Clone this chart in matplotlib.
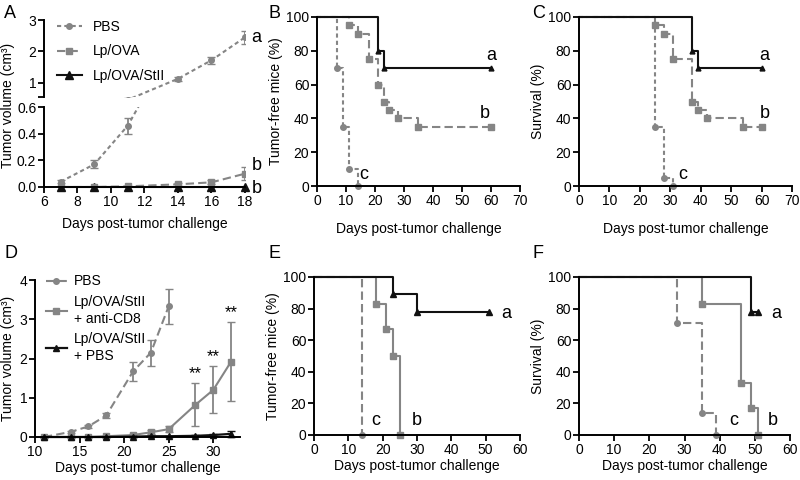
import numpy as np
import matplotlib.pyplot as plt
from matplotlib.lines import Line2D

plt.rcParams['font.family'] = ['Liberation Sans', 'DejaVu Sans']
plt.rcParams['font.size'] = 10

grey = '#858585'
blk = '#111111'

# ---- panel A data ----
a_days = [7, 9, 11, 14, 16, 18]
a_pbs = [0.04, 0.17, 0.46, 1.13, 1.72, 2.45]
a_pbs_err = [0.01, 0.03, 0.06, 0.07, 0.11, 0.2]
a_ova = [0.0, 0.0, 0.005, 0.02, 0.035, 0.10]
a_ova_err = [0.0, 0.0, 0.005, 0.01, 0.015, 0.05]
a_stii = [0, 0, 0, 0, 0, 0]

# ---- panel B data (tumor-free) ----
b_a_t = [0, 21, 23, 60]
b_a_v = [100, 80, 70, 70]
b_b_t = [0, 11, 14, 18, 21, 23, 25, 28, 35, 60]
b_b_v = [100, 95, 90, 75, 60, 50, 45, 40, 35, 35]
b_c_t = [0, 7, 9, 11, 14]
b_c_v = [100, 70, 35, 10, 0]

# ---- panel C data (survival) ----
c_a_t = [0, 37, 39, 60]
c_a_v = [100, 80, 70, 70]
c_b_t = [0, 25, 28, 31, 37, 39, 42, 54, 60]
c_b_v = [100, 95, 90, 75, 50, 45, 40, 35, 35]
c_c_t = [0, 25, 28, 31]
c_c_v = [100, 35, 5, 0]

# ---- panel D data ----
d_pbs_days = [11, 14, 16, 18, 21, 23, 25]
d_pbs = [0.0, 0.13, 0.27, 0.55, 1.67, 2.15, 3.33]
d_pbs_err = [0.0, 0.02, 0.03, 0.06, 0.25, 0.33, 0.45]
d_days = [11, 14, 16, 18, 21, 23, 25, 28, 30, 32]
d_cd8 = [0.0, 0.0, 0.0, 0.02, 0.05, 0.12, 0.2, 0.82, 1.2, 1.92]
d_cd8_err = [0.0, 0.0, 0.0, 0.01, 0.02, 0.05, 0.07, 0.55, 0.6, 1.0]
d_ctl = [0.0, 0.0, 0.0, 0.0, 0.01, 0.02, 0.02, 0.03, 0.05, 0.08]
d_ctl_err = [0.0, 0.0, 0.0, 0.0, 0.0, 0.0, 0.01, 0.01, 0.02, 0.08]
d_star_days = [28, 30, 32]

# ---- panel E data ----
e_a_t = [0, 23, 30, 51]
e_a_v = [100, 89, 78, 78]
e_b_t = [0, 18, 21, 23, 25]
e_b_v = [100, 83, 67, 50, 0]
e_c_t = [0, 14]
e_c_v = [100, 0]

# ---- panel F data ----
f_a_t = [0, 49, 51]
f_a_v = [100, 78, 78]
f_b_t = [0, 35, 46, 49, 51]
f_b_v = [100, 83, 33, 17, 0]
f_c_t = [0, 28, 35, 39]
f_c_v = [100, 71, 14, 0]

W, H = 800, 480
FS = 10
LET = 13


def box(x0, y0, x1, y1):
    # pixel box (top-left origin) -> fig rect
    return [x0 / W, 1 - y1 / H, (x1 - x0) / W, (y1 - y0) / H]


def style(ax, bottom=True):
    for s in ['top', 'right']:
        ax.spines[s].set_visible(False)
    ax.spines['left'].set_linewidth(1.4)
    ax.spines['bottom'].set_linewidth(1.4)
    if not bottom:
        ax.spines['bottom'].set_visible(False)
        ax.tick_params(axis='x', bottom=False, labelbottom=False)
    ax.tick_params(width=1.3, length=4, pad=1.5, labelsize=FS)


def km(ax, t, v, color, ls, marker, ms=4.5):
    ax.step(t, v, where='post', color=color, ls=ls, lw=1.5, clip_on=False)
    ax.plot(t[1:], v[1:], ls='none', marker=marker, color=color, ms=ms, clip_on=False)


fig = plt.figure(figsize=(8, 4.8), dpi=100)

# ---------------- A (broken axis) ----------------
axl = fig.add_axes(box(44, 107, 245, 187))
axu = fig.add_axes(box(44, 20, 245, 97))
for ax, clip in [(axl, False), (axu, True)]:
    ax.errorbar(a_days, a_pbs, yerr=a_pbs_err, color=grey, ls=(0, (2, 1.5)), lw=1.5,
                marker='o', ms=4, capsize=3, elinewidth=1.3)
    ax.errorbar(a_days, a_ova, yerr=a_ova_err, color=grey, ls=(0, (4, 2)), lw=1.5,
                marker='s', ms=4, capsize=3, elinewidth=1.3)
    ax.plot(a_days, a_stii, color=blk, lw=1.5, marker='^', ms=6, clip_on=clip)
    ax.set_xlim(6, 18)
axl.set_ylim(0, 0.6)
axl.set_yticks([0, 0.2, 0.4, 0.6])
axl.set_yticklabels(['0.0', '0.2', '0.4', '0.6'])
axl.set_xticks(range(6, 19, 2))
style(axl)
axl.set_xlabel('Days post-tumor challenge', fontsize=FS, labelpad=6)
axu.set_ylim(0.55, 3)
axu.set_yticks([0.55, 1, 2, 3])
axu.set_yticklabels(['', '1', '2', '3'])
style(axu, bottom=False)
hA = [Line2D([], [], color=grey, ls=(0, (2, 1.5)), lw=1.5, marker='o', ms=4),
      Line2D([], [], color=grey, ls=(0, (4, 2)), lw=1.5, marker='s', ms=4),
      Line2D([], [], color=blk, lw=1.5, marker='^', ms=6)]
axu.legend(hA, ['PBS', 'Lp/OVA', 'Lp/OVA/StII'], loc='upper left', frameon=False,
           fontsize=FS, labelspacing=0.75, handlelength=1.8, borderaxespad=0.1,
           bbox_to_anchor=(0.03, 1.09))
axu.text(18.4, 2.45, 'a', fontsize=LET, va='center')
axl.text(18.4, 0.16, 'b', fontsize=LET, va='center')
axl.text(18.4, -0.01, 'b', fontsize=LET, va='center')
fig.text(8 / W, 1 - 105 / H, 'Tumor volume (cm³)', rotation=90, ha='center', va='center',
         fontsize=FS)

# ---------------- B ----------------
ax = fig.add_axes(box(317, 17, 520, 186))
km(ax, b_c_t, b_c_v, grey, (0, (2, 1.5)), 'o', 4)
km(ax, b_b_t, b_b_v, grey, (0, (4, 2)), 's', 4.5)
km(ax, b_a_t, b_a_v, blk, '-', '^', 3.5)
ax.set_xlim(0, 70)
ax.set_ylim(0, 100)
ax.set_xticks(range(0, 71, 10))
ax.set_yticks(range(0, 101, 20))
style(ax)
ax.set_ylabel('Tumor-free mice (%)', fontsize=FS, labelpad=2)
ax.set_xlabel('Days post-tumor challenge', fontsize=FS, labelpad=10)
ax.text(60, 77, 'a', fontsize=LET, ha='center', va='center')
ax.text(58, 43, 'b', fontsize=LET, ha='center', va='center')
ax.text(16, 7, 'c', fontsize=LET, ha='center', va='center')

# ---------------- C ----------------
ax = fig.add_axes(box(579, 17, 792, 186))
km(ax, c_c_t, c_c_v, grey, (0, (2, 1.5)), 'o', 4)
km(ax, c_b_t, c_b_v, grey, (0, (4, 2)), 's', 4.5)
km(ax, c_a_t, c_a_v, blk, '-', '^', 3.5)
ax.set_xlim(0, 70)
ax.set_ylim(0, 100)
ax.set_xticks(range(0, 71, 10))
ax.set_yticks(range(0, 101, 20))
style(ax)
ax.set_ylabel('Survival (%)', fontsize=FS, labelpad=2)
ax.set_xlabel('Days post-tumor challenge', fontsize=FS, labelpad=10)
ax.text(61, 77, 'a', fontsize=LET, ha='center', va='center')
ax.text(61, 43, 'b', fontsize=LET, ha='center', va='center')
ax.text(34, 7, 'c', fontsize=LET, ha='center', va='center')

# ---------------- D ----------------
ax = fig.add_axes(box(35, 280, 240, 437))
ax.errorbar(d_pbs_days, d_pbs, yerr=d_pbs_err, color=grey, ls=(0, (4, 2)), lw=1.5,
            marker='o', ms=4, capsize=3, elinewidth=1.3, clip_on=False)
ax.errorbar(d_days, d_cd8, yerr=d_cd8_err, color=grey, ls='-', lw=1.5,
            marker='s', ms=4, capsize=3, elinewidth=1.3, clip_on=False)
ax.errorbar(d_days, d_ctl, yerr=d_ctl_err, color=blk, ls='-', lw=1.6,
            marker='^', ms=4, capsize=3, elinewidth=1.3, clip_on=False)
for d in d_star_days:
    i = d_days.index(d)
    ax.text(d, d_cd8[i] + d_cd8_err[i] + 0.05, '**', fontsize=12, ha='center', va='bottom')
ax.set_xlim(10, 33)
ax.set_ylim(0, 4)
ax.set_xticks(range(10, 31, 5))
ax.set_yticks(range(0, 5))
style(ax)
ax.set_ylabel('Tumor volume (cm³)', fontsize=FS, labelpad=3)
ax.set_xlabel('Days post-tumor challenge', fontsize=FS, labelpad=2)
hD = [Line2D([], [], color=grey, ls=(0, (4, 2)), lw=1.5, marker='o', ms=4),
      Line2D([], [], color=grey, lw=1.5, marker='s', ms=4),
      Line2D([], [], color=blk, lw=1.6, marker='^', ms=4)]
ax.legend(hD, ['PBS', 'Lp/OVA/StII\n+ anti-CD8', 'Lp/OVA/StII\n+ PBS'], loc='upper left',
          frameon=False, fontsize=FS, labelspacing=0.5, handlelength=1.5,
          handletextpad=0.5, borderaxespad=0.1, bbox_to_anchor=(0.02, 1.08))

# ---------------- E ----------------
ax = fig.add_axes(box(314, 277, 520, 435))
km(ax, e_c_t, e_c_v, grey, (0, (4, 2)), 'o', 4)
km(ax, e_b_t, e_b_v, grey, '-', 's', 4.5)
km(ax, e_a_t, e_a_v, blk, '-', '^', 4)
ax.set_xlim(0, 60)
ax.set_ylim(0, 100)
ax.set_xticks(range(0, 61, 10))
ax.set_yticks(range(0, 101, 20))
style(ax)
ax.set_ylabel('Tumor-free mice (%)', fontsize=FS, labelpad=2)
ax.set_xlabel('Days post-tumor challenge', fontsize=FS, labelpad=2)
ax.text(56, 77, 'a', fontsize=LET, ha='center', va='center')
ax.text(30, 9, 'b', fontsize=LET, ha='center', va='center')
ax.text(18, 9, 'c', fontsize=LET, ha='center', va='center')

# ---------------- F ----------------
ax = fig.add_axes(box(579, 277, 790, 435))
km(ax, f_c_t, f_c_v, grey, (0, (4, 2)), 'o', 4)
km(ax, f_b_t, f_b_v, grey, '-', 's', 4.5)
km(ax, f_a_t, f_a_v, blk, '-', '^', 4)
ax.set_xlim(0, 60)
ax.set_ylim(0, 100)
ax.set_xticks(range(0, 61, 10))
ax.set_yticks(range(0, 101, 20))
style(ax)
ax.set_ylabel('Survival (%)', fontsize=FS, labelpad=2)
ax.set_xlabel('Days post-tumor challenge', fontsize=FS, labelpad=2)
ax.text(56, 77, 'a', fontsize=LET, ha='center', va='center')
ax.text(55, 9, 'b', fontsize=LET, ha='center', va='center')
ax.text(44, 9, 'c', fontsize=LET, ha='center', va='center')

# panel letters
for lab, x, y in [('A', 4, 14), ('B', 268, 14), ('C', 532, 14),
                  ('D', 4, 254), ('E', 268, 254), ('F', 532, 254)]:
    fig.text(x / W, 1 - y / H, lab, fontsize=LET, va='center', ha='left')

fig.savefig('out.png', dpi=100)
